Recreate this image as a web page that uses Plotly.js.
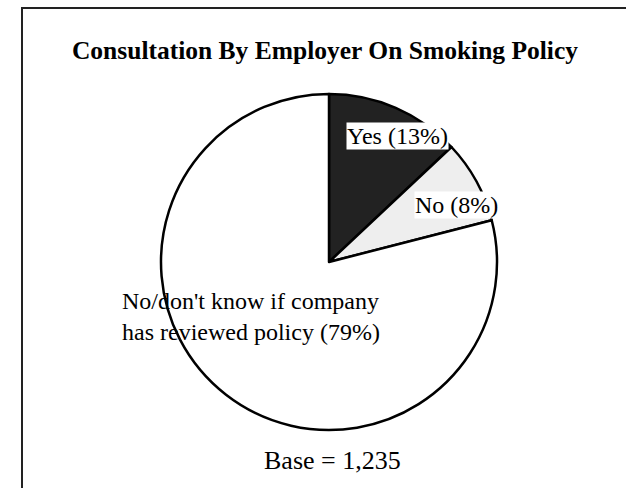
<!DOCTYPE html>
<html>
<head>
<meta charset="utf-8">
<script src="https://cdn.plot.ly/plotly-3.0.1.min.js"></script>
<style>html,body{margin:0;padding:0;background:#fff;overflow:hidden;}#chart{width:626px;height:488px;}</style>
</head>
<body>
<div id="chart"></div>
<script>
const categories = ["Yes", "No", "No/don't know if company<br>has reviewed policy"];
const values = [13, 8, 79];
const sliceColors = ["#222222", "#eeeeee", "#ffffff"];
const titleText = "Consultation By Employer On Smoking Policy";
const baseText = "Base = 1,235";

const W = 626, H = 488;
const cx = 329, cy = 262, r = 168;
const px = x => x / W;
const py = y => 1 - y / H;
const serif = "Liberation Serif, Times New Roman, Times, serif";

const labelPos = [
  {x: 397, y: 136, align: 'center'},
  {x: 456, y: 205, align: 'center'},
  {x: 121, y: 316, align: 'left', xanchor: 'left'}
];

const annotations = categories.map((c, i) => ({
  x: px(labelPos[i].x), y: py(labelPos[i].y), xref: 'paper', yref: 'paper',
  text: c + ' (' + values[i] + '%)',
  showarrow: false,
  xanchor: labelPos[i].xanchor || 'center', yanchor: 'middle',
  align: labelPos[i].align,
  bgcolor: i < 2 ? '#ffffff' : 'rgba(0,0,0,0)',
  borderpad: 0,
  font: {family: serif, size: 24, color: '#000'}
}));
annotations.push({
  x: px(332), y: py(460), xref: 'paper', yref: 'paper', text: baseText,
  showarrow: false, xanchor: 'center', yanchor: 'middle',
  font: {family: serif, size: 26, color: '#000'}
});

const data = [{
  type: 'pie',
  labels: categories,
  values: values,
  sort: false,
  direction: 'clockwise',
  rotation: 0,
  textinfo: 'none',
  hoverinfo: 'none',
  marker: {colors: sliceColors, line: {color: '#000', width: 2.5}},
  domain: {x: [px(cx - r), px(cx + r)], y: [py(cy + r), py(cy - r)]},
  showlegend: false
}];

const layout = {
  width: W, height: H,
  margin: {l: 0, r: 0, t: 0, b: 0},
  paper_bgcolor: '#fff',
  title: {text: '<b>' + titleText + '</b>', x: px(325), xanchor: 'center', y: py(50), yanchor: 'middle',
    font: {family: serif, size: 25.5, color: '#000'}},
  annotations: annotations,
  shapes: [
    {type: 'line', xref: 'paper', yref: 'paper', x0: px(21), x1: 1, y0: py(8), y1: py(8),
      line: {color: '#222', width: 2}},
    {type: 'line', xref: 'paper', yref: 'paper', x0: px(22), x1: px(22), y0: py(7), y1: 0,
      line: {color: '#222', width: 2}}
  ]
};

Plotly.newPlot('chart', data, layout, {staticPlot: true, displayModeBar: false});
</script>
</body>
</html>
